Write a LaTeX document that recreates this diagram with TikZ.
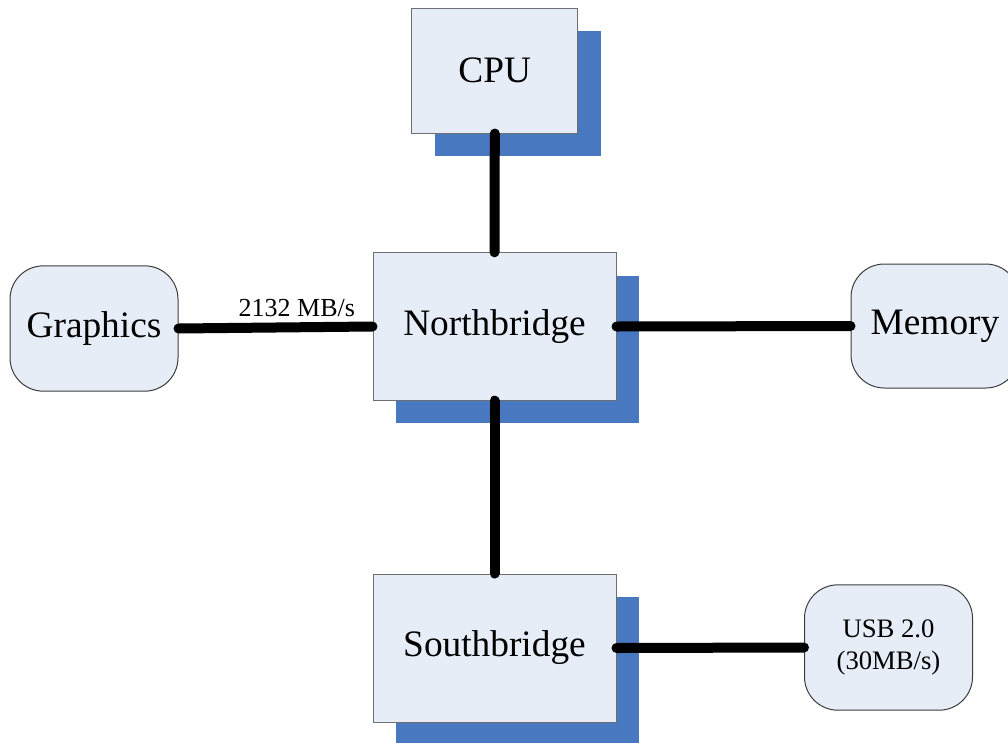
\documentclass[tikz,border=0pt]{standalone}
\usepackage{fontspec}
\setmainfont{Liberation Serif}
\usetikzlibrary{shadows}
\definecolor{boxfill}{HTML}{E7EDF7}
\definecolor{shadowblue}{HTML}{4878C0}
\definecolor{rectedge}{HTML}{6E6E6E}
\definecolor{roundedge}{HTML}{3C3C3C}
\tikzset{
  chip/.style={rectangle, draw=rectedge, line width=0.75pt, fill=boxfill,
    inner sep=0pt, font=\fontsize{28}{33}\selectfont,
    drop shadow={shadow xshift=17.25pt, shadow yshift=-17.25pt,
      fill=shadowblue, opacity=1}},
  device/.style={rectangle, rounded corners=25pt, draw=roundedge, line width=0.75pt,
    fill=boxfill, inner sep=0pt, minimum width=126pt, minimum height=94pt,
    align=center},
  bus/.style={line width=7.5pt, line cap=round, black},
  rate/.style={font=\fontsize{19.5}{23}\selectfont}
}
\begin{document}
\begin{tikzpicture}[x=0.75pt, y=-0.75pt]
  \useasboundingbox (0,0) rectangle (1008,743);

  % chipset blocks
  \node[chip, minimum width=124.5pt, minimum height=93.75pt] (cpu) at (494.8,70.5) {CPU};
  \node[chip, minimum width=182.25pt, minimum height=110.5pt] (nb) at (494.5,326.5) {Northbridge};
  \node[chip, minimum width=182.25pt, minimum height=111pt] (sb) at (494.5,648) {Southbridge};

  % peripherals
  \node[device, font=\fontsize{28}{33}\selectfont] (gfx) at (94,328.5) {Graphics};
  \node[device, font=\fontsize{28}{33}\selectfont, minimum height=93pt] (mem) at (935,326) {Memory};
  \node[device, font=\fontsize{20}{24}\selectfont] (usb) at (888.5,647.5) {USB 2.0\\(30MB/s)};

  % buses
  \draw[bus] (cpu.south) -- (nb.north);
  \draw[bus] (nb.south) -- (sb.north);
  \draw[bus] (gfx.east) -- node[rate, above=1pt, pos=0.61] (gfxrate) {2132 MB/s} (nb.west);
  \draw[bus] (nb.east) -- (mem.west);
  \draw[bus] (sb.east) -- (usb.west);
\end{tikzpicture}
\end{document}
